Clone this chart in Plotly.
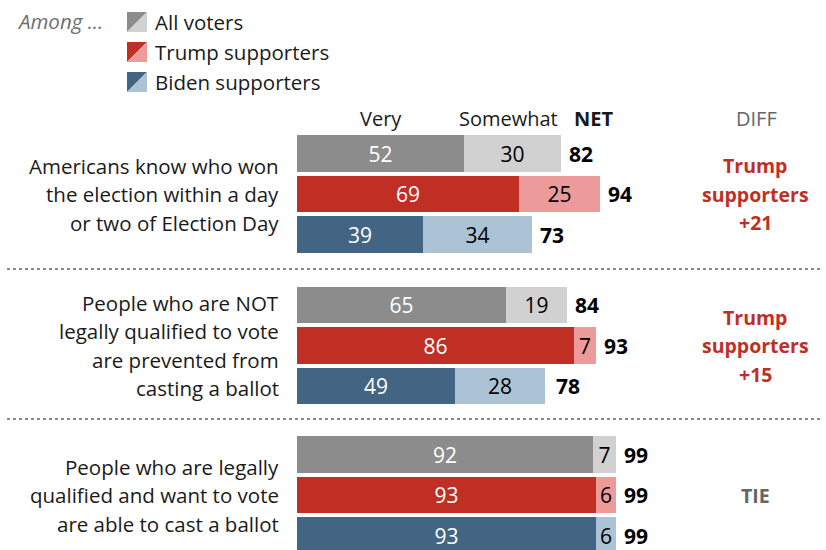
import plotly.graph_objects as go

# Survey items (one per group), shown as stacked lines on the left
items = [
    ["Americans know who won", "the election within a day", "or two of Election Day"],
    ["People who are NOT", "legally qualified to vote", "are prevented from", "casting a ballot"],
    ["People who are legally", "qualified and want to vote", "are able to cast a ballot"],
]

groups = ["All voters", "Trump supporters", "Biden supporters"]

# Percent saying "very" and "somewhat" important, per item, per group
very = {
    "All voters":       [52, 65, 92],
    "Trump supporters": [69, 86, 93],
    "Biden supporters": [39, 49, 93],
}
somewhat = {
    "All voters":       [30, 19, 7],
    "Trump supporters": [25, 7, 6],
    "Biden supporters": [34, 28, 6],
}
net = {
    "All voters":       [82, 84, 99],
    "Trump supporters": [94, 93, 99],
    "Biden supporters": [73, 78, 99],
}
diff_text = [["Trump", "supporters", "+21"], ["Trump", "supporters", "+15"], ["TIE"]]
diff_color = ["#bf2f24", "#bf2f24", "#666666"]

dark = {"All voters": "#8c8c8c", "Trump supporters": "#bf2f24", "Biden supporters": "#436584"}
light = {"All voters": "#d1d1d1", "Trump supporters": "#ec9a9a", "Biden supporters": "#abc3d4"}

W, H = 826, 550
X0 = 297          # pixel where 0% sits
PX_PER_PT = 3.22  # pixels per percentage point
group_center = [153.5, 305.0, 454.5]   # centre of first bar in each group (px)
ROW_STEP = 40.5
BAR_H = 36.5
FONT = "Open Sans, Arial, sans-serif"


def px(x):
    return x / W


def py(y):
    return 1 - y / H


fig = go.Figure()

for gi, g in enumerate(groups):
    ys = [group_center[k] + gi * ROW_STEP for k in range(3)]
    fig.add_trace(go.Bar(
        y=ys, x=very[g], base=0, orientation="h", width=BAR_H,
        marker=dict(color=dark[g], line=dict(width=0)),
        text=very[g], textposition="inside", insidetextanchor="middle",
        constraintext="none",
        textfont=dict(family=FONT, size=21, color="white"),
        hoverinfo="skip", showlegend=False,
    ))
    fig.add_trace(go.Bar(
        y=ys, x=somewhat[g], base=very[g], orientation="h", width=BAR_H,
        marker=dict(color=light[g], line=dict(width=0)),
        text=somewhat[g], textposition="inside", insidetextanchor="middle",
        constraintext="none",
        textfont=dict(family=FONT, size=21, color="black"),
        hoverinfo="skip", showlegend=False,
    ))
    for k in range(3):
        fig.add_annotation(
            x=net[g][k], y=ys[k], xref="x", yref="y", xanchor="left", yanchor="middle",
            xshift=6, text=f"<b>{net[g][k]}</b>", showarrow=False,
            font=dict(family=FONT, size=21, color="black"),
        )

# Item labels on the left, one annotation per line
for k, lines in enumerate(items):
    mid = group_center[k] + ROW_STEP
    n = len(lines)
    for li, line in enumerate(lines):
        yline = mid + (li - (n - 1) / 2) * 28.5
        fig.add_annotation(
            x=px(281), y=py(yline), xref="paper", yref="paper",
            xanchor="right", yanchor="middle", text=line, showarrow=False,
            font=dict(family=FONT, size=20.5, color="#1a1a1a"),
        )

# Difference column
for k, lines in enumerate(diff_text):
    mid = group_center[k] + ROW_STEP
    n = len(lines)
    for li, line in enumerate(lines):
        yline = mid + (li - (n - 1) / 2) * 28.5
        fig.add_annotation(
            x=px(755), y=py(yline), xref="paper", yref="paper",
            xanchor="center", yanchor="middle", text=f"<b>{line}</b>", showarrow=False,
            font=dict(family=FONT, size=19.5, color=diff_color[k]),
        )

# Column headers
for label, xc, bold in [("Very", 381, False), ("Somewhat", 508, False), ("NET", 593, True), ("DIFF", 756, False)]:
    fig.add_annotation(
        x=px(xc), y=py(118), xref="paper", yref="paper", xanchor="center", yanchor="middle",
        text=f"<b>{label}</b>" if bold else label, showarrow=False,
        font=dict(family=FONT, size=20, color="#666666" if label == "DIFF" else "#1a1a1a"),
    )

# Dotted separators between items
for ysep in [269, 419]:
    fig.add_shape(type="line", xref="paper", yref="paper",
                  x0=px(7), x1=px(823), y0=py(ysep), y1=py(ysep),
                  line=dict(color="#8a8a8a", width=2, dash="dot"))

# Legend with split swatches
fig.add_annotation(x=px(15), y=py(21), xref="paper", yref="paper", xanchor="left", yanchor="middle",
                   text="<i>Among ...</i>", showarrow=False,
                   font=dict(family=FONT, size=20.5, color="#6e6e6e"))
for gi, g in enumerate(groups):
    top = 12 + gi * 30
    x0, x1, y0, y1 = 127, 147, top, top + 20
    fig.add_shape(type="path", xref="paper", yref="paper",
                  path=f"M {px(x0)} {py(y0)} L {px(x1)} {py(y0)} L {px(x0)} {py(y1)} Z",
                  fillcolor=dark[g], line=dict(width=0))
    fig.add_shape(type="path", xref="paper", yref="paper",
                  path=f"M {px(x1)} {py(y0)} L {px(x1)} {py(y1)} L {px(x0)} {py(y1)} Z",
                  fillcolor=light[g], line=dict(width=0))
    fig.add_annotation(x=px(153), y=py(top + 10), xref="paper", yref="paper",
                       xanchor="left", yanchor="middle", text=g, showarrow=False,
                       font=dict(family=FONT, size=20.5, color="#1a1a1a"))

fig.update_layout(
    width=W, height=H, margin=dict(l=0, r=0, t=0, b=0),
    paper_bgcolor="white", plot_bgcolor="white",
    barmode="overlay", bargap=0,
    xaxis=dict(range=[-X0 / PX_PER_PT, (W - X0) / PX_PER_PT], visible=False, fixedrange=True),
    yaxis=dict(range=[H, 0], visible=False, fixedrange=True),
    showlegend=False,
)

fig.write_html("out.html")
